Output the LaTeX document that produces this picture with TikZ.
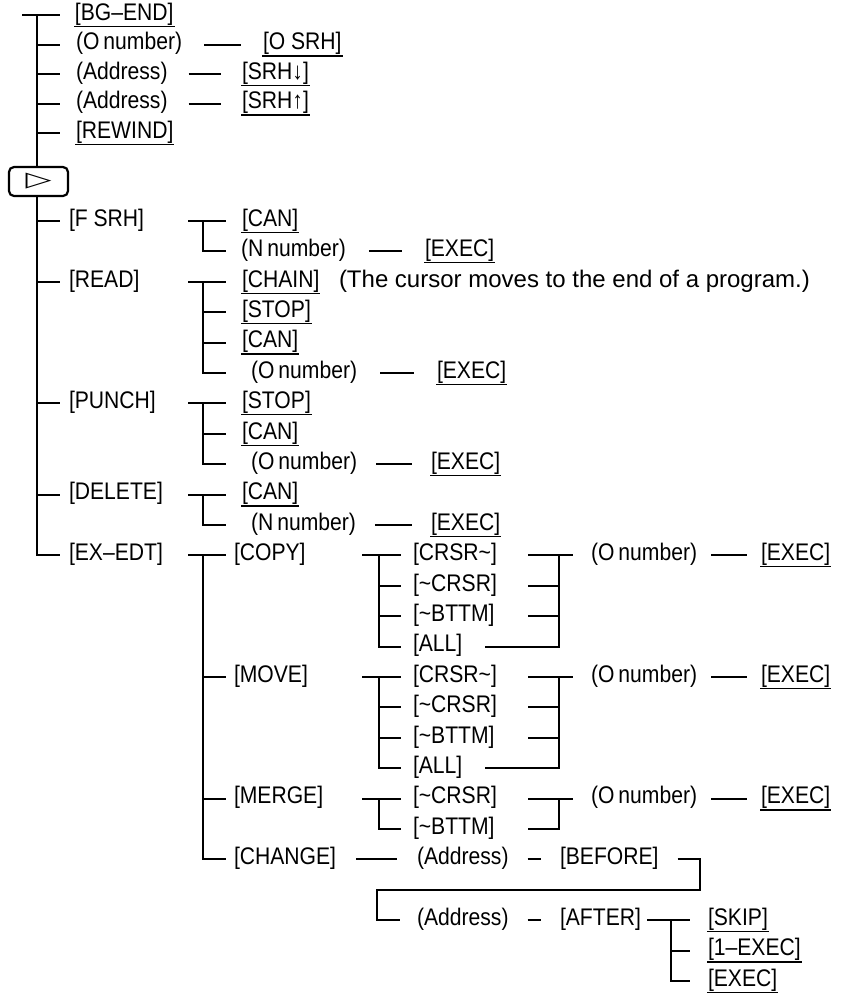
\documentclass[tikz,border=0pt]{standalone}
\usepackage{fontspec}
\setmainfont{Liberation Sans}[FakeStretch=0.88]
\newfontfamily\notefont{Liberation Sans}
\newfontfamily\symbfont{DejaVu Sans}

\begin{document}
\begin{tikzpicture}[x=0.5pt, y=-0.5pt, line width=1pt,
    soft/.style={anchor=west, inner sep=0pt, text height=8.6pt, text depth=3.4pt, font=\fontsize{12}{14}\selectfont},
    hard/.style={soft, append after command={([yshift=0.8pt]\tikzlastnode.south west) edge[draw, line width=0.6pt] ([yshift=0.8pt]\tikzlastnode.south east)}},
    keybox/.style={draw, rounded corners=2.5pt, line width=1.1pt, minimum width=29.5pt, minimum height=14.5pt, inner sep=0pt},
    twig/.style={shorten >=#1}, twig/.default=7.5pt,
    link/.style={shorten <=#1, shorten >=#1}, link/.default=9pt]
        \useasboundingbox (0,0) rectangle (843,998);
        % Columns of the tree
        \coordinate (trunktop) at (37,15);
        \coordinate (toptee) at (22,15);
        \coordinate (col2tee) at (188,0);
        \coordinate (col2) at (203,0);
        \coordinate (col3tee) at (362,0);
        \coordinate (col3) at (379,0);
        \coordinate (col4stub) at (528,0);
        \coordinate (col4) at (559,0);
        \coordinate (col5tee) at (647,0);
        \coordinate (col5) at (671,0);
        \coordinate (bendr) at (700,889.8);
        \coordinate (bendl) at (377,889.8);

        % Keys above the start key
        \node[hard] (bgend) at (74,15) {[BG–END]};
        \node[soft] (onum0) at (75,44.5) {(O\,number)};
        \node[hard] (osrh) at (262,44.5) {[O SRH]};
        \node[soft] (addr1) at (75,74) {(Address)};
        \node[hard] (srhdn) at (241,74) {[SRH↓]};
        \node[soft] (addr2) at (75,103.5) {(Address)};
        \node[hard] (srhup) at (241,103.5) {[SRH↑]};
        \node[hard] (rewind) at (75,133) {[REWIND]};
        \node[keybox] (start) at (38.5,181.5) {\resizebox*{13pt}{8pt}{\symbfont ▷}};

        % Soft keys after the start key
        \node[soft] (fsrh) at (68,221) {[F SRH]};
        \node[soft] (read) at (68,281.8) {[READ]};
        \node[soft] (punch) at (68,403.4) {[PUNCH]};
        \node[soft] (delete) at (68,494.6) {[DELETE]};
        \node[soft] (exedt) at (68,555.4) {[EX–EDT]};

        % F SRH
        \node[hard] (can1) at (241,221) {[CAN]};
        \node[soft] (nnum1) at (240,251.4) {(N\,number)};
        \node[hard] (exec1) at (424,251.4) {[EXEC]};
        % READ
        \node[hard] (chain) at (241,281.8) {[CHAIN]};
        \node[soft, font={\notefont\fontsize{12}{14}\selectfont}] (note) at (338,281.8) {(The cursor moves to the end of a program.)};
        \node[hard] (stop1) at (241,312.2) {[STOP]};
        \node[hard] (can2) at (241,342.6) {[CAN]};
        \node[soft] (onum1) at (250,373) {(O\,number)};
        \node[hard] (exec2) at (436,373) {[EXEC]};
        % PUNCH
        \node[hard] (stop2) at (241,403.4) {[STOP]};
        \node[hard] (can3) at (241,433.8) {[CAN]};
        \node[soft] (onum2) at (250,464.2) {(O\,number)};
        \node[hard] (exec3) at (430,464.2) {[EXEC]};
        % DELETE
        \node[hard] (can4) at (241,494.6) {[CAN]};
        \node[soft] (nnum2) at (250,525) {(N\,number)};
        \node[hard] (exec4) at (430,525) {[EXEC]};

        % EX-EDT
        \node[soft] (copy) at (233,555.4) {[COPY]};
        \node[soft] (move) at (233,677) {[MOVE]};
        \node[soft] (merge) at (233,798.6) {[MERGE]};
        \node[soft] (change) at (233,859.4) {[CHANGE]};

        \node[soft] (c1) at (412,555.4) {[CRSR\textasciitilde]};
        \node[soft] (c2) at (412,585.8) {[\textasciitilde CRSR]};
        \node[soft] (c3) at (412,616.2) {[\textasciitilde BTTM]};
        \node[soft] (c4) at (412,646.6) {[ALL]};
        \node[soft] (conum) at (590,555.4) {(O\,number)};
        \node[hard] (cexec) at (760,555.4) {[EXEC]};

        \node[soft] (m1) at (412,677) {[CRSR\textasciitilde]};
        \node[soft] (m2) at (412,707.4) {[\textasciitilde CRSR]};
        \node[soft] (m3) at (412,737.8) {[\textasciitilde BTTM]};
        \node[soft] (m4) at (412,768.2) {[ALL]};
        \node[soft] (monum) at (590,677) {(O\,number)};
        \node[hard] (mexec) at (760,677) {[EXEC]};

        \node[soft] (g1) at (412,798.6) {[\textasciitilde CRSR]};
        \node[soft] (g2) at (412,829) {[\textasciitilde BTTM]};
        \node[soft] (gonum) at (590,798.6) {(O\,number)};
        \node[hard] (gexec) at (760,798.6) {[EXEC]};

        \node[soft] (caddr1) at (416,859.4) {(Address)};
        \node[soft] (before) at (559,859.4) {[BEFORE]};
        \node[soft] (caddr2) at (416,920.2) {(Address)};
        \node[soft] (after) at (559,920.2) {[AFTER]};
        \node[hard] (skip) at (707,920.2) {[SKIP]};
        \node[hard] (oneexec) at (707,950.6) {[1–EXEC]};
        \node[hard] (aexec) at (707,981) {[EXEC]};

        % Trunk
        \draw[twig=7pt] (toptee) -- (bgend.west);
        \draw (trunktop) -- (trunktop |- start.north);
        \foreach \n in {onum0, addr1, addr2, rewind}
            \draw[twig] (trunktop |- \n.west) -- (\n.west);
        \foreach \n in {fsrh, read, punch, delete}
            \draw[twig=4pt] (trunktop |- \n.west) -- (\n.west);
        \draw[twig=4pt] (trunktop |- start.south) |- (exedt.west);

        \draw[link=10.5pt] (onum0) -- (osrh);
        \draw[link=10pt] (addr1) -- (srhdn);
        \draw[link=10pt] (addr2) -- (srhup);

        % Second level forks
        \draw[twig] (col2tee |- can1.west) -- (can1.west);
        \draw[twig=7pt] (col2 |- can1.west) |- (nnum1.west);
        \draw[link=11pt] (nnum1) -- (exec1);

        \draw[twig] (col2tee |- chain.west) -- (chain.west);
        \draw[twig=12pt] (col2 |- chain.west) |- (onum1.west);
        \foreach \n in {stop1, can2}
            \draw[twig] (col2 |- \n.west) -- (\n.west);
        \draw[link=11pt] (onum1) -- (exec2);

        \draw[twig] (col2tee |- stop2.west) -- (stop2.west);
        \draw[twig=12pt] (col2 |- stop2.west) |- (onum2.west);
        \draw[twig] (col2 |- can3.west) -- (can3.west);
        \draw[link] (onum2) -- (exec3);

        \draw[twig] (col2tee |- can4.west) -- (can4.west);
        \draw[twig=12pt] (col2 |- can4.west) |- (nnum2.west);
        \draw[link] (nnum2) -- (exec4);

        \draw[twig=3.5pt] (col2tee |- copy.west) -- (copy.west);
        \draw[twig=3.5pt] (col2 |- copy.west) |- (change.west);
        \foreach \n in {move, merge}
            \draw[twig=3.5pt] (col2 |- \n.west) -- (\n.west);

        % COPY and MOVE
        \foreach \a/\b/\c/\d/\o/\e in {c1/c2/c3/c4/conum/cexec, m1/m2/m3/m4/monum/mexec} {
            \draw[twig=5.5pt] (col3tee |- \a.west) -- (\a.west);
            \draw[twig=5.5pt] (col3 |- \a.west) |- (\d.west);
            \draw[twig=5.5pt] (col3 |- \b.west) -- (\b.west);
            \draw[twig=5.5pt] (col3 |- \c.west) -- (\c.west);
            \draw[twig=8.5pt] (col4stub |- \a.east) -- (\o.west);
            \draw[shorten <=11pt] (\d.east) -| (col4 |- \a.east);
            \draw (col4stub |- \b.east) -- (col4 |- \b.east);
            \draw (col4stub |- \c.east) -- (col4 |- \c.east);
            \draw[link=6.5pt] (\o) -- (\e);
        }

        % MERGE
        \draw[twig=5.5pt] (col3tee |- g1.west) -- (g1.west);
        \draw[twig=5.5pt] (col3 |- g1.west) |- (g2.west);
        \draw[twig=8.5pt] (col4stub |- g1.east) -- (gonum.west);
        \draw (col4stub |- g2.east) -| (col4 |- g1.east);
        \draw[link=6.5pt] (gonum) -- (gexec);

        % CHANGE
        \draw[link=9.5pt] (change) -- (caddr1);
        \draw[link] (caddr1) -- (before);
        \draw[shorten <=9pt, twig=8pt] (before.east) -| (bendr) -- (bendl) |- (caddr2.west);
        \draw[link] (caddr2) -- (after);
        \draw[twig=8.5pt] (col5tee |- skip.west) -- (skip.west);
        \draw[twig=8.5pt] (col5 |- skip.west) |- (aexec.west);
        \draw[twig=8.5pt] (col5 |- oneexec.west) -- (oneexec.west);
    \end{tikzpicture}
\end{document}
